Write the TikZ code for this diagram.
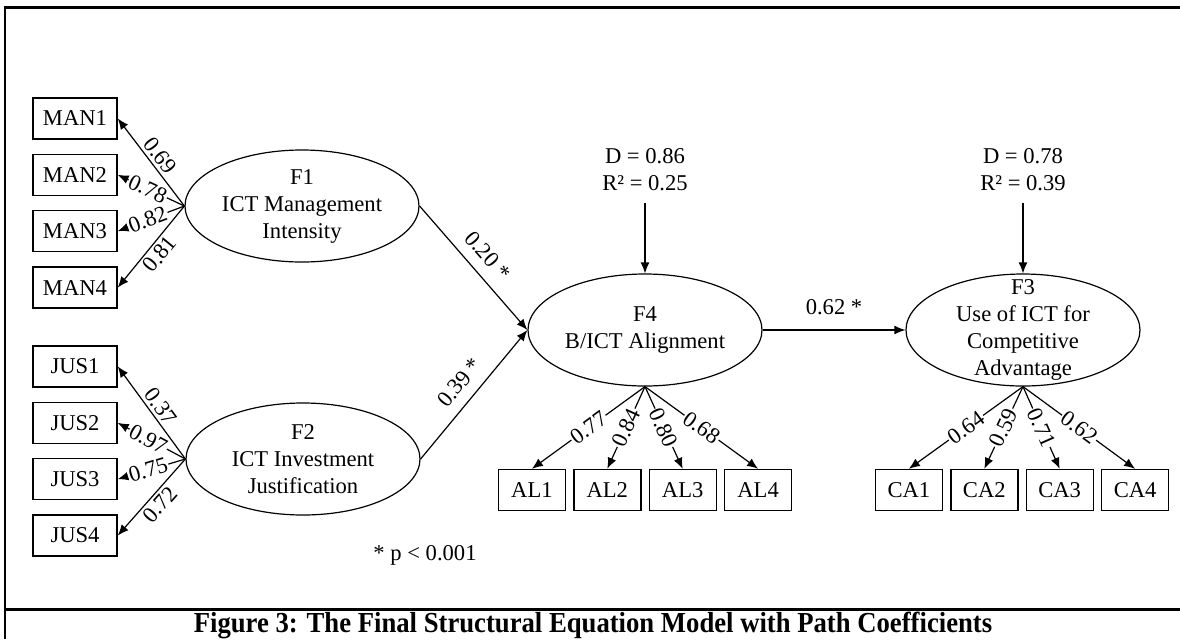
\documentclass[tikz,border=0pt]{standalone}
\usepackage{fontspec}
\setmainfont{Liberation Serif}
\usetikzlibrary{positioning, matrix, shapes.geometric, arrows.meta}

\begin{document}
\begin{tikzpicture}[
        x=0.5pt, y=-0.5pt,
        font=\fontsize{11.3}{13.5}\selectfont,
        lat/.style={draw, ellipse, line width=0.6pt, minimum width=117pt, minimum height=56pt, inner sep=0pt},
        lattxt/.style={align=center, inner sep=0pt},
        ind/.style={draw, line width=0.7pt, minimum width=33.5pt, minimum height=20.5pt, inner sep=0pt},
        indw/.style={ind, minimum width=42pt},
        arr/.style={-{Latex[length=5.5pt,width=4.5pt]}, line width=0.6pt},
        onl/.style={sloped, pos=0.55, fill=white, inner sep=0.6pt},
        offa/.style={sloped, pos=0.5, above, inner sep=1.5pt},
        offb/.style={sloped, pos=0.5, below, inner sep=1.5pt},
        dist/.style={align=center, inner sep=6pt},
    ]
    \useasboundingbox (0,0) rectangle (1180,639);

    % frame and caption rule
    \draw[line width=1.5pt] (4,7) -- (1180,7);
    \draw[line width=1pt] (5,7) -- (5,639);
    \draw[line width=1.5pt] (4,609) -- (1180,609);

    % latent factors
    \node[lat, label={[lattxt]center:F1\\ICT Management\\Intensity}] (f1) at (302,206) {};
    \node[lat, label={[lattxt]center:F2\\ICT Investment\\Justification}] (f2) at (303,459) {};
    \node[lat, label={[lattxt]center:F4\\B/ICT Alignment}] (f4) at (645,330) {};
    \node[lat, label={[lattxt]center:F3\\Use of ICT for\\Competitive\\Advantage}] (f3) at (1023,330) {};

    % indicator columns
    \matrix[matrix of nodes, nodes={indw}, row sep=7pt, ampersand replacement=\&] (mans) at (75,203) {
        MAN1 \\ MAN2 \\ MAN3 \\ MAN4 \\
    };
    \matrix[matrix of nodes, nodes={indw}, row sep=7pt, ampersand replacement=\&] (juss) at (75,451) {
        JUS1 \\ JUS2 \\ JUS3 \\ JUS4 \\
    };
    % indicator rows
    \matrix[matrix of nodes, nodes={ind}, column sep=3.5pt, ampersand replacement=\&] (als) at (645,490) {
        AL1 \& AL2 \& AL3 \& AL4 \\
    };
    \matrix[matrix of nodes, nodes={ind}, column sep=3.5pt, ampersand replacement=\&] (cas) at (1022,490) {
        CA1 \& CA2 \& CA3 \& CA4 \\
    };

    % disturbances
    \node[dist, above=35pt of f4] (d4) {D = 0.86\\R² = 0.25};
    \node[dist, above=35pt of f3] (d3) {D = 0.78\\R² = 0.39};
    \draw[arr] (d4) -- (f4);
    \draw[arr] (d3) -- (f3);

    % loadings
    \foreach \i/\v/\s in {1/0.69/offa, 2/0.78/onl, 3/0.82/onl, 4/0.81/offb}
        \draw[arr] (f1.west) -- node[\s] {\v} (mans-\i-1.east);
    \foreach \i/\v/\s in {1/0.37/offa, 2/0.97/onl, 3/0.75/onl, 4/0.72/offb}
        \draw[arr] (f2.west) -- node[\s] {\v} (juss-\i-1.east);
    \foreach \i/\v in {1/0.77, 2/0.84, 3/0.80, 4/0.68}
        \draw[arr] (f4.south) -- node[onl, pos=0.5] {\v} (als-1-\i.north);
    \foreach \i/\v in {1/0.64, 2/0.59, 3/0.71, 4/0.62}
        \draw[arr] (f3.south) -- node[onl, pos=0.5] {\v} (cas-1-\i.north);

    % structural paths
    \draw[arr] (f1.east) -- node[sloped, above=2pt] {0.20 *} (f4.west);
    \draw[arr] (f2.east) -- node[sloped, above=2pt] {0.39 *} (f4.west);
    \draw[arr] (f4.east) -- node[above=4pt] {0.62 *} (f3.west);

    % note
    \node (note) at (425,555) {* p < 0.001};

    % caption
    \node[anchor=base, font=\fontsize{14.5}{16}\selectfont\bfseries] (cap) at (593,632)
        {\scalebox{0.92}[1]{Figure 3: The Final Structural Equation Model with Path Coefficients}};
\end{tikzpicture}
\end{document}
